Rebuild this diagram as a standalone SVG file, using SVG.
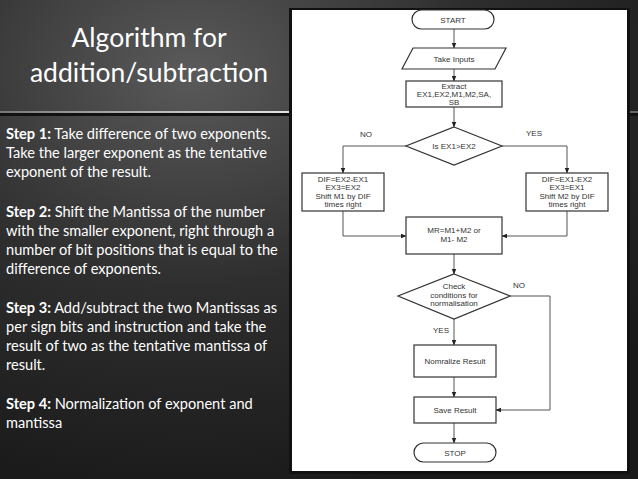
<svg xmlns="http://www.w3.org/2000/svg" width="638" height="479" viewBox="0 0 638 479">
<style>
.s{fill:#fff;stroke:#333;stroke-width:1.2}
.t{font-family:"Liberation Sans",Arial,sans-serif;font-size:8px;fill:#333;text-anchor:middle}
.c{fill:none;stroke:#555;stroke-width:1}
.b{font-family:Lato,"Open Sans",sans-serif;font-size:14.6px;fill:#fff}
.h{font-family:Lato,"Open Sans",sans-serif;font-size:26.5px;fill:#fff;text-anchor:middle}
</style>
<defs>
<radialGradient id="bg" cx="0.3" cy="0.15" r="0.9">
<stop offset="0" stop-color="#5a5a5a"/><stop offset="0.5" stop-color="#2e2e2e"/><stop offset="1" stop-color="#1a1a1a"/>
</radialGradient>
<linearGradient id="streak" x1="0" x2="1"><stop offset="0" stop-color="#fff" stop-opacity="0.3"/><stop offset="0.5" stop-color="#fff" stop-opacity="0.9"/><stop offset="1" stop-color="#fff" stop-opacity="0.3"/></linearGradient>
<marker id="a" viewBox="0 0 10 10" refX="9" refY="5" markerWidth="6" markerHeight="6" orient="auto"><path d="M0,1 L10,5 L0,9z" fill="#222"/></marker>
</defs>
<rect width="638" height="479" fill="url(#bg)"/>
<rect x="0" y="111" width="638" height="2" fill="url(#streak)"/>
<rect x="0" y="113" width="638" height="3" fill="#111"/>
<g id="title"><text class="h" x="149" y="47">Algorithm for</text><text class="h" x="149" y="82">addition/subtraction</text></g>
<g id="steps">
<text class="b" x="6" y="139"><tspan font-weight="bold">Step 1:</tspan> Take difference of two exponents.</text>
<text class="b" x="6" y="158">Take the larger exponent as the tentative</text>
<text class="b" x="6" y="177">exponent of the result.</text>
<text class="b" x="6" y="217"><tspan font-weight="bold">Step 2:</tspan> Shift the Mantissa of the number</text>
<text class="b" x="6" y="236">with the smaller exponent, right through a</text>
<text class="b" x="6" y="255">number of bit positions that is equal to the</text>
<text class="b" x="6" y="274">difference of exponents.</text>
<text class="b" x="6" y="313"><tspan font-weight="bold">Step 3:</tspan> Add/subtract the two Mantissas as</text>
<text class="b" x="6" y="332">per sign bits and instruction and take the</text>
<text class="b" x="6" y="351">result of two as the tentative mantissa of</text>
<text class="b" x="6" y="370">result.</text>
<text class="b" x="6" y="409"><tspan font-weight="bold">Step 4:</tspan> Normalization of exponent and</text>
<text class="b" x="6" y="428">mantissa</text>
</g>
<rect x="289" y="8" width="341" height="466" fill="#111"/>
<rect x="292" y="10" width="335" height="461" fill="#fff"/>
<g id="connectors">
<path class="c" marker-end="url(#a)" d="M454,29V48"/>
<path class="c" marker-end="url(#a)" d="M454,69V81"/>
<path class="c" marker-end="url(#a)" d="M454,107V127"/>
<path class="c" marker-end="url(#a)" d="M406,146H343V173"/>
<path class="c" marker-end="url(#a)" d="M502,146H567V173"/>
<path class="c" marker-end="url(#a)" d="M343,211V236H406"/>
<path class="c" marker-end="url(#a)" d="M567,211V236H502"/>
<path class="c" marker-end="url(#a)" d="M454,254V274"/>
<path class="c" marker-end="url(#a)" d="M454,319V345"/>
<path class="c" marker-end="url(#a)" d="M510,296H550V410H496"/>
<path class="c" marker-end="url(#a)" d="M454,377V397"/>
<path class="c" marker-end="url(#a)" d="M454,423V443"/>
<text class="t" x="366" y="137">NO</text><text class="t" x="534" y="136">YES</text>
<text class="t" x="519" y="288">NO</text><text class="t" x="441" y="333">YES</text>
</g>
<g id="start"><rect class="s" x="412" y="10" width="82" height="19" rx="9.5"/><text class="t" x="453" y="22.5">START</text></g>
<g id="inputs"><polygon class="s" points="413,48 506,48 495,69 402,69"/><text class="t" x="454" y="61.5">Take Inputs</text></g>
<g id="extract"><rect class="s" x="406" y="81" width="96" height="26"/><text class="t" x="454" y="88.5">Extract</text><text class="t" x="454" y="96.5">EX1,EX2,M1,M2,SA,</text><text class="t" x="454" y="104.5">SB</text></g>
<g id="cmp"><polygon class="s" points="454,127 502,146 454,165 406,146"/><text class="t" x="454" y="149">Is EX1&gt;EX2</text></g>
<g id="left"><rect class="s" x="302" y="173" width="82" height="38"/><text class="t" x="343" y="181.5">DIF=EX2-EX1</text><text class="t" x="343" y="190">EX3=EX2</text><text class="t" x="343" y="198.5">Shift M1 by DIF</text><text class="t" x="343" y="207">times right</text></g>
<g id="right"><rect class="s" x="526" y="173" width="82" height="38"/><text class="t" x="567" y="181.5">DIF=EX1-EX2</text><text class="t" x="567" y="190">EX3=EX1</text><text class="t" x="567" y="198.5">Shift M2 by DIF</text><text class="t" x="567" y="207">times right</text></g>
<g id="mr"><rect class="s" x="406" y="217" width="96" height="37"/><text class="t" x="454" y="233">MR=M1+M2 or</text><text class="t" x="454" y="242">M1- M2</text></g>
<g id="check"><polygon class="s" points="454,274 510,296 454,319 398,296"/><text class="t" x="454" y="289">Check</text><text class="t" x="454" y="297.5">conditions for</text><text class="t" x="454" y="306">normalisation</text></g>
<g id="norm"><rect class="s" x="414" y="345" width="82" height="32"/><text class="t" x="455" y="364">Nomralize Result</text></g>
<g id="save"><rect class="s" x="414" y="397" width="82" height="26"/><text class="t" x="455" y="413">Save Result</text></g>
<g id="stop"><rect class="s" x="414" y="443" width="82" height="19" rx="9.5"/><text class="t" x="455" y="455.5">STOP</text></g>
</svg>
